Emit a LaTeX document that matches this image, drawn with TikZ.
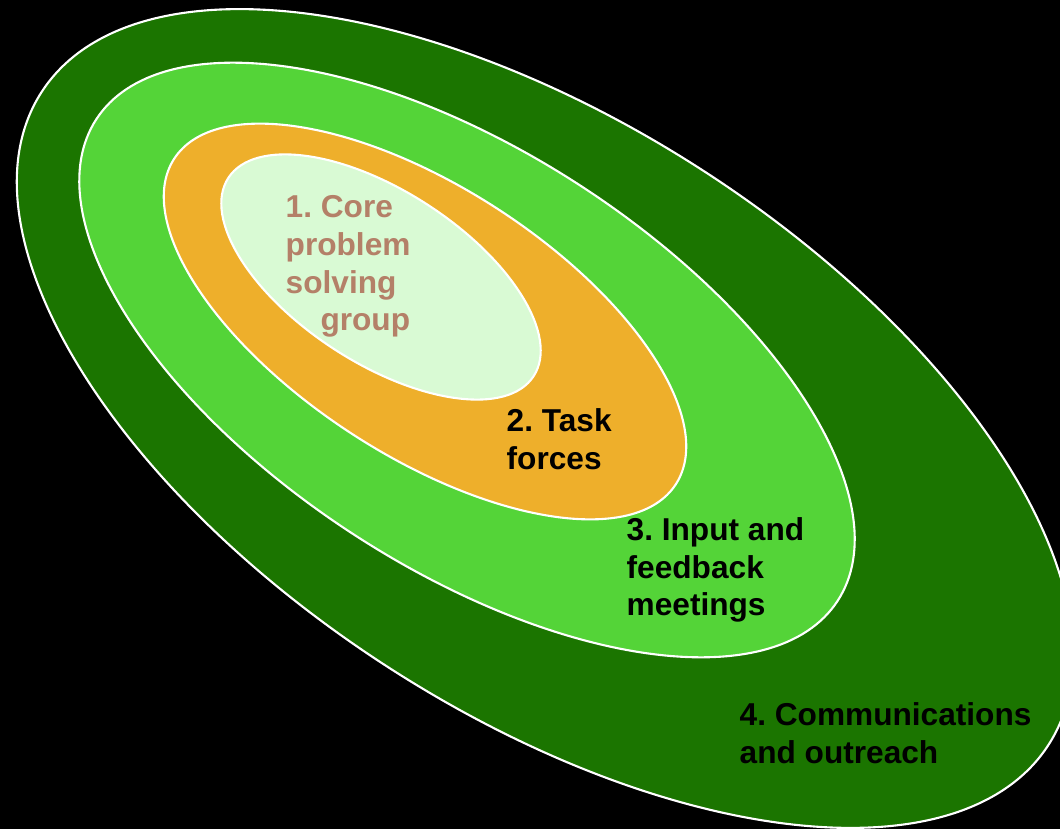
\documentclass[tikz,border=0pt]{standalone}
\usepackage{fontspec}
\setmainfont{Liberation Sans}
\frenchspacing

\definecolor{outerGreen}{RGB}{27,117,0}
\definecolor{midGreen}{RGB}{84,212,56}
\definecolor{taskOrange}{RGB}{238,175,43}
\definecolor{corePale}{RGB}{217,250,212}
\definecolor{coreBrown}{RGB}{180,128,104}

\begin{document}
\begin{tikzpicture}[
    ring/.style={draw=white, line width=0.6pt},
    ringtext/.style={anchor=north west, inner sep=0pt, align=left,
      font=\bfseries\fontsize{9}{10.7}\selectfont}
  ]

    % Background
    \fill[black] (0,0) rectangle (10.6,-8.29);
    \clip (0,0) rectangle (10.6,-8.29);

    % Rings, outer to inner
    \draw[ring, fill=outerGreen, shift={(5.45,-4.185)}, rotate=-33] (0,0) ellipse (6.00 and 2.94);
    \draw[ring, fill=midGreen, shift={(4.67,-3.60)}, rotate=-33] (0,0) ellipse (4.42 and 2.08);
    \draw[ring, fill=taskOrange, shift={(4.25,-3.215)}, rotate=-33] (0,0) ellipse (2.99 and 1.34);
    \draw[ring, fill=corePale, shift={(3.81,-2.77)}, rotate=-33] (0,0) ellipse (1.82 and 0.86);

    % Nodes
    \node[ringtext, text=coreBrown] (core) at (2.85,-1.95) {1. Core\\problem\\solving\\\hspace*{1.1em}group};
    \node[ringtext] (task) at (5.06,-4.08) {2. Task\\forces};
    \node[ringtext] (input) at (6.26,-5.17) {3. Input and\\feedback\\meetings};
    \node[ringtext] (comms) at (7.39,-7.02) {4. Communications\\and outreach};

\end{tikzpicture}
\end{document}
